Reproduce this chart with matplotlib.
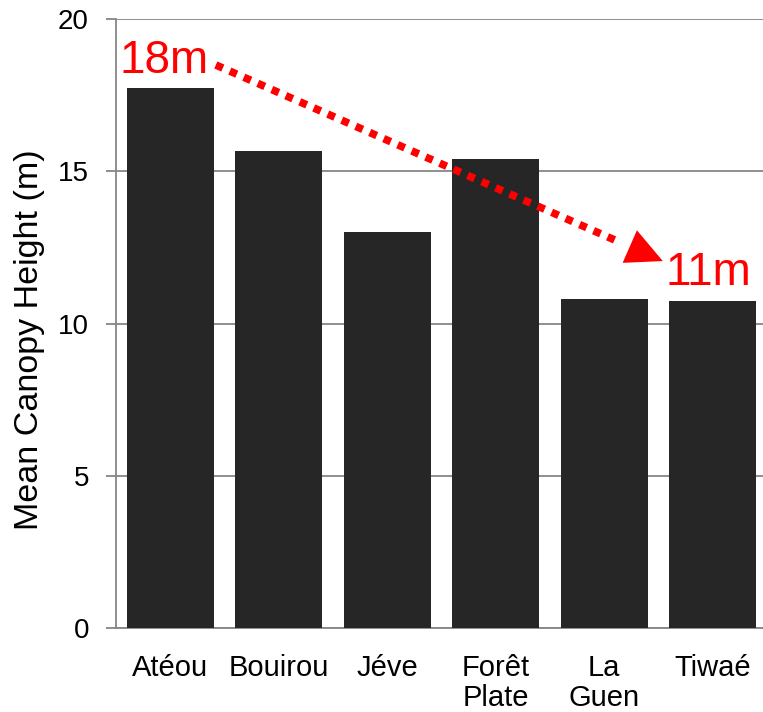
import numpy as np
import matplotlib
matplotlib.use('Agg')
import matplotlib.pyplot as plt

plt.rcParams['font.family'] = ['Liberation Sans', 'DejaVu Sans']

# site means
sites = ['Atéou', 'Bouirou', 'Jéve', 'Forêt\nPlate', 'La\nGuen', 'Tiwaé']
heights = [17.75, 15.65, 13.0, 15.4, 10.8, 10.75]
yticks = [0, 5, 10, 15, 20]

# trend arrow and its end labels
trend_start = (0.42, 18.49)
trend_end = (4.54, 12.05)
start_label = '18m'
end_label = '11m'

fig = plt.figure(figsize=(7.63, 7.12), dpi=100)
ax = fig.add_axes([116/763, 84/712, 651/763, 609/712])

x = np.arange(len(sites))
ax.bar(x, heights, width=0.8, color='#262626', zorder=3)

ax.set_xlim(-0.5, len(sites) - 0.5)
ax.set_ylim(0, 20)
ax.set_yticks(yticks)
ax.set_xticks(x)
ax.set_xticklabels(sites, fontsize=21, linespacing=1.1)
ax.tick_params(axis='y', labelsize=20, length=7.5, width=1.3, color='#868686', pad=12)
ax.tick_params(axis='x', length=0, pad=18.5)
ax.yaxis.grid(True, color='#868686', linewidth=1.3, zorder=0)
for s in ['top', 'right']:
    ax.spines[s].set_visible(False)
for s in ['left', 'bottom']:
    ax.spines[s].set_color('#868686')
    ax.spines[s].set_linewidth(1.3)
ax.set_ylabel('Mean Canopy Height (m)', fontsize=24.5, va='center')
ax.yaxis.set_label_coords(-0.133, 0.473)

# dotted trend line, stopped short of the head
(x0, y0), (x1, y1) = trend_start, trend_end
f = 0.9
ax.plot([x0, x0 + f * (x1 - x0)], [y0, y0 + f * (y1 - y0)], color='red',
        linewidth=5.5, linestyle=(0, (1, 1)), solid_capstyle='butt',
        dash_capstyle='butt', zorder=5, clip_on=False)
ax.annotate('', xy=trend_end, xytext=(x0 + 0.85 * (x1 - x0), y0 + 0.85 * (y1 - y0)),
            arrowprops=dict(arrowstyle='-|>,head_length=0.65,head_width=0.32',
                            mutation_scale=40, color='red', lw=0,
                            shrinkA=0, shrinkB=0), zorder=6)

ax.text(-0.06, 18.23, start_label, color='red', fontsize=33, ha='center', va='baseline', zorder=6)
ax.text(4.96, 11.26, end_label, color='red', fontsize=33, ha='center', va='baseline', zorder=6)

fig.savefig('out.png', dpi=100)
